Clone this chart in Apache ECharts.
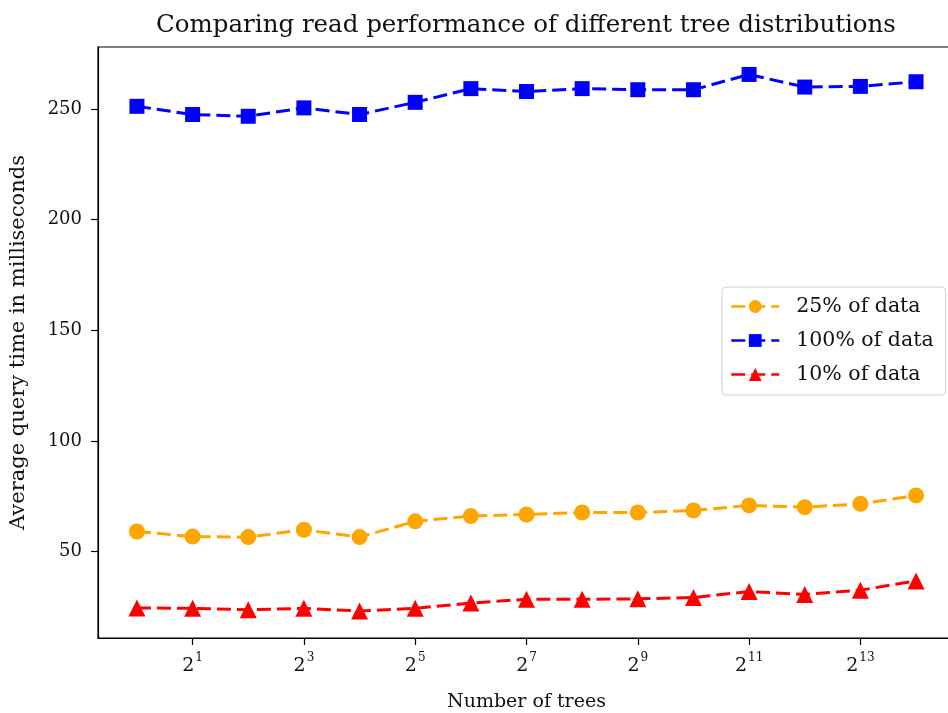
<!DOCTYPE html>
<html>
<head>
<meta charset="utf-8">
<script src="https://cdn.jsdelivr.net/npm/echarts@6/dist/echarts.min.js"></script>
<style>
  html, body { margin: 0; padding: 0; background: #fff; }
  #chart { width: 948px; height: 713px; }
</style>
</head>
<body>
<div id="chart"></div>
<script>
// Number of trees for each run (powers of two)
const treeCounts = [1, 2, 4, 8, 16, 32, 64, 128, 256, 512, 1024, 2048, 4096, 8192, 16384];

// Average query time (ms) per data share
const data25 = [59.1, 56.8, 56.6, 59.9, 56.6, 63.7, 66.1, 66.8, 67.7, 67.7, 68.6, 70.9, 70.1, 71.6, 75.4];
const data100 = [251.2, 247.5, 246.7, 250.5, 247.5, 253.0, 259.2, 257.9, 259.2, 258.7, 258.7, 265.6, 259.9, 260.2, 262.3];
const data10 = [24.6, 24.4, 23.8, 24.4, 23.2, 24.4, 26.8, 28.5, 28.5, 28.7, 29.3, 32.0, 30.7, 32.6, 36.8];

const seriesNames = ['25% of data', '100% of data', '10% of data'];

// Tick positions (exponents of 2 on x, ms on y)
const xTickExps = [1, 3, 5, 7, 9, 11, 13];
const yTicks = [50, 100, 150, 200, 250];

const FONT = 'DejaVu Serif';

function pairs(values) {
  return treeCounts.map((n, i) => [Math.log2(n), values[i]]);
}

const chart = echarts.init(document.getElementById('chart'), null, { renderer: 'canvas' });

const dash = [14, 6];

chart.setOption({
  animation: false,
  backgroundColor: '#ffffff',
  title: {
    text: 'Comparing read performance of different tree distributions',
    left: 521,
    textAlign: 'center',
    top: 8,
    textStyle: { fontFamily: FONT, fontSize: 24.5, fontWeight: 'normal', color: '#111' }
  },
  grid: {
    left: 98, top: 47, width: 857, bottom: 75,
    containLabel: false,
    outerBoundsMode: 'none',
    show: true, borderColor: '#000', borderWidth: 1.2, backgroundColor: 'transparent'
  },
  legend: {
    left: 722,
    top: 287,
    orient: 'vertical',
    itemWidth: 48,
    itemHeight: 16,
    itemGap: 13,
    padding: [9, 12, 10, 8],
    backgroundColor: '#fff',
    borderColor: '#d0d0d0',
    borderWidth: 1,
    borderRadius: 4,
    lineStyle: { width: 2.5 },
    textStyle: { fontFamily: FONT, fontSize: 20.5, color: '#111', padding: [0, 0, 0, 12] },
    data: seriesNames
  },
  xAxis: {
    type: 'value',
    min: -0.7,
    max: 14.7,
    name: 'Number of trees',
    nameLocation: 'middle',
    nameGap: 55,
    nameTextStyle: { fontFamily: FONT, fontSize: 19, color: '#111' },
    axisLine: { show: true, onZero: false, lineStyle: { color: '#000', width: 1.2 } },
    axisTick: { show: true, inside: false, length: 7, customValues: xTickExps, lineStyle: { color: '#000', width: 1.2 } },
    axisLabel: {
      customValues: xTickExps,
      margin: 14,
      formatter: v => '{b|2}{s|' + v + '}',
      rich: {
        b: { fontFamily: FONT, fontSize: 19, color: '#111', verticalAlign: 'bottom' },
        s: { fontFamily: FONT, fontSize: 12, color: '#111', verticalAlign: 'top', padding: [0, 0, 12, 1] }
      }
    },
    splitLine: { show: false }
  },
  yAxis: {
    type: 'value',
    min: 11,
    max: 278,
    name: 'Average query time in milliseconds',
    nameLocation: 'middle',
    nameGap: 69,
    nameTextStyle: { fontFamily: FONT, fontSize: 21, color: '#111' },
    axisLine: { show: true, onZero: false, lineStyle: { color: '#000', width: 1.2 } },
    axisTick: { show: true, inside: false, length: 7, customValues: yTicks, lineStyle: { color: '#000', width: 1.2 } },
    axisLabel: { customValues: yTicks, margin: 16, fontFamily: FONT, fontSize: 18, color: '#111' },
    splitLine: { show: false }
  },
  series: [
    {
      name: seriesNames[0],
      type: 'line',
      data: pairs(data25),
      symbol: 'circle',
      symbolSize: 16,
      itemStyle: { color: '#ffa500' },
      lineStyle: { color: '#ffa500', width: 3, type: dash },
      z: 3
    },
    {
      name: seriesNames[1],
      type: 'line',
      data: pairs(data100),
      symbol: 'rect',
      symbolSize: 15,
      itemStyle: { color: '#0000ff' },
      lineStyle: { color: '#0000ff', width: 3, type: dash },
      z: 2
    },
    {
      name: seriesNames[2],
      type: 'line',
      data: pairs(data10),
      symbol: 'triangle',
      symbolSize: 17,
      itemStyle: { color: '#ff0000' },
      lineStyle: { color: '#ff0000', width: 3, type: dash },
      z: 4
    }
  ]
});
</script>
</body>
</html>
